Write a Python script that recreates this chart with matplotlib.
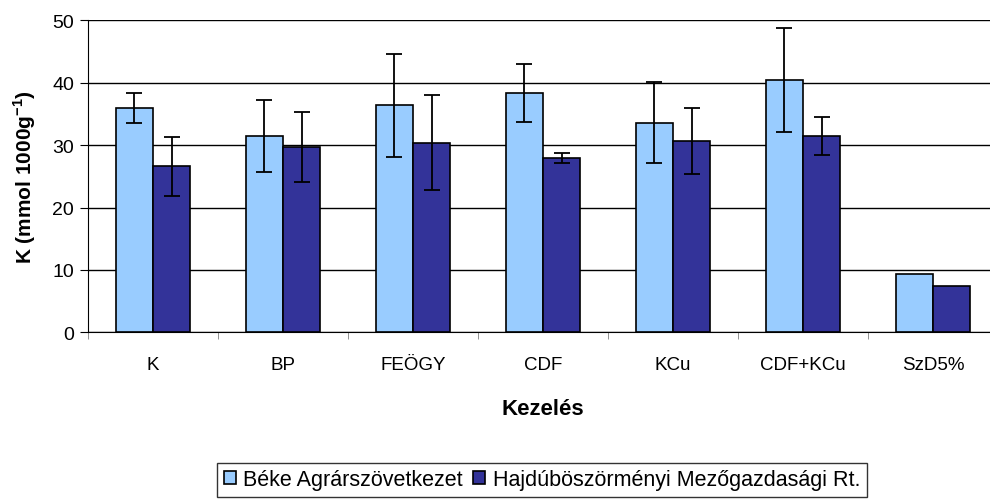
import matplotlib
matplotlib.use("Agg")
import matplotlib.pyplot as plt
import numpy as np

plt.rcParams['font.family'] = ['Liberation Sans', 'DejaVu Sans']
plt.rcParams['mathtext.fontset'] = 'custom'
plt.rcParams['mathtext.rm'] = 'Liberation Sans'
plt.rcParams['mathtext.bf'] = 'Liberation Sans:bold'

categories = ["K", "BP", "FEÖGY", "CDF", "KCu", "CDF+KCu", "SzD5%"]
series_names = ["Béke Agrárszövetkezet", "Hajdúböszörményi Mezőgazdasági Rt."]
beke = [35.9, 31.5, 36.4, 38.4, 33.6, 40.4, 9.3]
hajdu = [26.6, 29.7, 30.4, 27.9, 30.7, 31.5, 7.4]
beke_err = [2.4, 5.8, 8.25, 4.65, 6.45, 8.35, np.nan]
hajdu_err = [4.7, 5.65, 7.55, 0.8, 5.3, 3.05, np.nan]
yticks = [0, 10, 20, 30, 40, 50]

W, H = 990, 502
fig = plt.figure(figsize=(W / 100, H / 100), dpi=100)
left, right, top, bottom = 88, 998, 21.3, 333.3
ax = fig.add_axes([left / W, 1 - bottom / H, (right - left) / W, (bottom - top) / H])

x = np.arange(len(categories))
bw = 0.285
ax.bar(x - bw / 2, beke, bw, color='#99CCFF', edgecolor='black', linewidth=1.2,
       label=series_names[0], zorder=3)
ax.bar(x + bw / 2, hajdu, bw, color='#333399', edgecolor='black', linewidth=1.2,
       label=series_names[1], zorder=3)
ax.errorbar(x - bw / 2, beke, yerr=beke_err, fmt='none', ecolor='black',
            elinewidth=1.3, capsize=5.5, capthick=1.3, zorder=4)
ax.errorbar(x + bw / 2, hajdu, yerr=hajdu_err, fmt='none', ecolor='black',
            elinewidth=1.3, capsize=5.5, capthick=1.3, zorder=4)

ax.set_xlim(-0.5, len(categories) - 0.5)
ax.set_ylim(0, 50)
ax.set_yticks(yticks)
ax.yaxis.grid(True, color='black', linewidth=1.0, zorder=0)
ax.set_axisbelow(True)
for s in ['top', 'right']:
    ax.spines[s].set_visible(False)
ax.spines['left'].set_color('black')
ax.spines['bottom'].set_color('black')

ax.set_xticks(x)
ax.set_xticklabels(categories, fontsize=13.5)
ax.tick_params(axis='x', which='major', length=0, pad=17)
ax.set_xticks(np.arange(-0.5, len(categories), 1.0), minor=True)
ax.tick_params(axis='x', which='minor', length=5, color='gray', direction='out')
ax.tick_params(axis='y', length=6, labelsize=14, direction='out', pad=4)

ax.set_ylabel(r'K (mmol 1000g$^{\mathbf{-1}}$)', fontsize=15, fontweight='bold', labelpad=10)
ax.set_xlabel('Kezelés', fontsize=16, fontweight='bold', labelpad=18)

leg = fig.legend(loc='center', bbox_to_anchor=(542 / W, 1 - 481 / H), ncol=2,
                 fontsize=15.5, frameon=True, fancybox=False, edgecolor='black',
                 handlelength=0.55, handleheight=0.55, handletextpad=0.35,
                 columnspacing=0.5, borderpad=0.3, borderaxespad=0)
leg.get_frame().set_linewidth(1.0)

fig.savefig('out.png', dpi=100)
